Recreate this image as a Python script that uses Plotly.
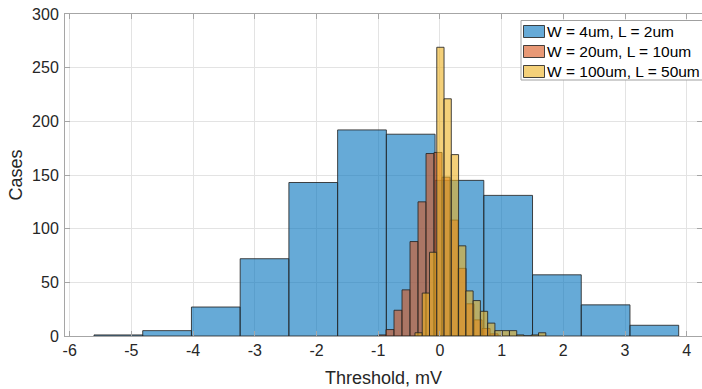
import plotly.graph_objects as go

# Histogram data (bin start, bin width, counts)
blue_name = "W = 4um, L = 2um"
blue_start = -5.606
blue_width = 0.7897
blue_counts = [1, 5, 27, 72, 143, 192, 188, 145, 131, 57, 29, 10]

orange_name = "W = 20um, L = 10um"
orange_start = -1.003
orange_width = 0.1297
orange_counts = [1, 6, 24, 43, 88, 125, 170, 171, 148, 108, 63, 30, 15, 7, 2]

yellow_name = "W = 100um, L = 50um"
yellow_start = -0.404
yellow_width = 0.1178
yellow_counts = [3, 40, 78, 269, 221, 169, 84, 42, 33, 23, 12, 5, 5, 5, 1, 0, 1, 3]

x_ticks = [-6, -5, -4, -3, -2, -1, 0, 1, 2, 3, 4]
y_ticks = [0, 50, 100, 150, 200, 250, 300]

FONT = "Liberation Sans, Arial, Helvetica, sans-serif"
TXT = "#262626"
W, H = 702, 389
ML, MR, MT, MB = 65, 0, 14, 53
PW, PH = W - ML - MR, H - MT - MB


def centers(start, width, counts):
    return [start + width * (i + 0.5) for i in range(len(counts))]


def px(x):  # page pixel -> paper x
    return (x - ML) / PW


def py(y):  # page pixel -> paper y
    return (H - MB - y) / PH


series = [
    (blue_name, blue_start, blue_width, blue_counts, "0,114,189"),
    (orange_name, orange_start, orange_width, orange_counts, "217,83,25"),
    (yellow_name, yellow_start, yellow_width, yellow_counts, "237,177,32"),
]

fig = go.Figure()
for name, start, width, counts, rgb in series:
    fig.add_trace(go.Bar(
        x=centers(start, width, counts),
        y=counts,
        width=[width] * len(counts),
        name=name,
        showlegend=False,
        marker=dict(color=f"rgba({rgb},0.6)",
                    line=dict(color="rgba(38,38,38,0.85)", width=1)),
    ))

# Legend drawn as shapes + text (MATLAB-style compact legend)
shapes = [dict(type="rect", xref="paper", yref="paper", layer="above",
               x0=px(521), x1=px(760), y0=py(80), y1=py(20.5),
               fillcolor="white", line=dict(color="#a0a0a0", width=1))]
annotations = []
for i, (name, start, width, counts, rgb) in enumerate(series):
    cy = 31.5 + 20 * i
    shapes.append(dict(type="rect", xref="paper", yref="paper", layer="above",
                       x0=px(523.5), x1=px(544.5), y0=py(cy + 6), y1=py(cy - 6),
                       fillcolor=f"rgba({rgb},0.6)",
                       line=dict(color="rgba(38,38,38,0.85)", width=1)))
    annotations.append(dict(xref="paper", yref="paper", x=px(544.5), y=py(cy),
                            xanchor="left", yanchor="middle", showarrow=False,
                            text=name, font=dict(family=FONT, size=15.5, color="#000000")))

fig.update_layout(
    width=W, height=H,
    margin=dict(l=ML, r=MR, t=MT, b=MB),
    barmode="overlay",
    plot_bgcolor="white", paper_bgcolor="white",
    font=dict(family=FONT, size=16, color=TXT),
    showlegend=False,
    shapes=shapes,
    annotations=annotations,
    xaxis=dict(
        range=[-6.076, 4.248], tickvals=x_ticks, ticktext=[str(v) for v in x_ticks],
        showgrid=True, gridcolor="#e3e3e3", zeroline=False,
        showline=True, linecolor="#a6a6a6", linewidth=1, mirror="ticks",
        ticks="inside", ticklen=5, tickcolor="#a6a6a6",
        title=dict(text="Threshold, mV", font=dict(size=18), standoff=13),
        tickfont=dict(size=16), automargin=False, ticklabeloverflow="allow",
    ),
    yaxis=dict(
        range=[0, 300], tickvals=y_ticks,
        showgrid=True, gridcolor="#e3e3e3", zeroline=False,
        showline=True, linecolor="#a6a6a6", linewidth=1, mirror="ticks",
        ticks="inside", ticklen=5, tickcolor="#a6a6a6",
        title=dict(text="Cases", font=dict(size=18), standoff=4),
        tickfont=dict(size=16), automargin=False, ticklabeloverflow="allow",
        ticklabelstandoff=2,
    ),
)

fig.write_html("out.html", config={"displayModeBar": False},
               post_script="document.body.style.margin='0px';")
